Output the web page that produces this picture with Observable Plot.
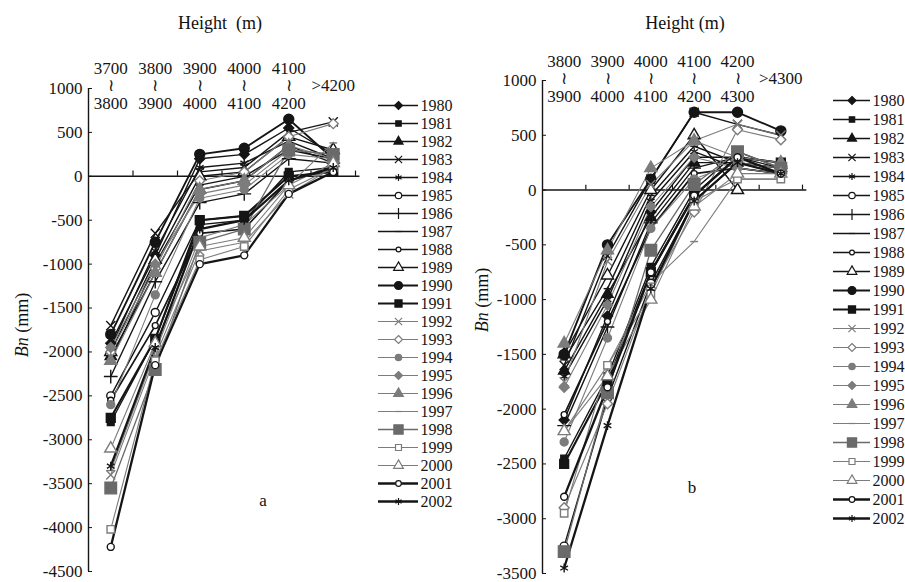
<!DOCTYPE html>
<html><head><meta charset="utf-8">
<script src="https://cdn.jsdelivr.net/npm/d3@7"></script>
<script src="https://cdn.jsdelivr.net/npm/@observablehq/plot@0.6"></script>
<style>
body{margin:0;background:#fff;}
#wrap{position:relative;width:905px;height:582px;overflow:hidden;font-family:"Liberation Serif","Times New Roman",Tinos,"DejaVu Serif",serif;color:#111;}
.abs{position:absolute;white-space:pre;line-height:1;}
.title{font-size:18px;transform:translate(-50%,-50%);}
.ylab{font-size:18px;transform:translate(-50%,-50%) rotate(-90deg);}
.plab{font-size:17px;transform:translate(-50%,-50%);}
</style></head><body><div id="wrap"></div>
<script>
// ---------- data ----------
const years = [1980,1981,1982,1983,1984,1985,1986,1987,1988,1989,1990,1991,1992,1993,1994,1995,1996,1997,1998,1999,2000,2001,2002];
const categoriesA = ["3700\n≀\n3800","3800\n≀\n3900","3900\n≀\n4000","4000\n≀\n4100","4100\n≀\n4200",">4200"];
const categoriesB = ["3800\n≀\n3900","3900\n≀\n4000","4000\n≀\n4100","4100\n≀\n4200","4200\n≀\n4300",">4300"];
const yTicksA = [1000,500,0,-500,-1000,-1500,-2000,-2500,-3000,-3500,-4000,-4500];
const yTicksB = [1000,500,0,-500,-1000,-1500,-2000,-2500,-3000,-3500];
// panel a: Bn (mm) per year, per elevation band
const bnA = [
  [-1900, -900,  200,  250,  550,  250], // 1980
  [-2800,-1850, -550, -500,   50,  100], // 1981
  [-2050,-1100, -150,  -50,  350,  150], // 1982
  [-1700, -650,   50,  100,  500,  620], // 1983
  [-1950, -850,  100,  150,  400,  200], // 1984
  [-2500,-1550, -500, -450,    0,   50], // 1985
  [-2280,-1200, -300, -200,  200,  150], // 1986
  [-2100,-1000, -100,    0,  300,  200], // 1987
  [-2550,-1700, -650, -600,  -50,  100], // 1988
  [-2000, -950,    0,   50,  450,  300], // 1989
  [-1800, -750,  250,  320,  650,  200], // 1990
  [-2750,-1850, -500, -450,    0,   50], // 1991
  [-3400,-2050, -850, -750, -200,  100], // 1992
  [-2000,-1050,  -50,   50,  450,  600], // 1993
  [-2600,-1350, -250, -150,  250,  200], // 1994
  [-1950,-1000, -200, -100,  300,  250], // 1995
  [-2100,-1100, -150,  -50,  350,  200], // 1996
  [-3350,-2000, -700, -550, -100,  380], // 1997
  [-3550,-2200, -750, -600,  300,  250], // 1998
  [-4020,-2100, -950, -800, -150,  100], // 1999
  [-3100,-1900, -800, -700, -100,  150], // 2000
  [-4220,-2150,-1000, -900, -200,   50], // 2001
  [-3300,-1950, -600, -500,  -50,  100]  // 2002
];
// panel b
const bnB = [
  [-2100,-1150, -200,  300,  300,  250], // 1980
  [-2450,-1700, -700,    0,  350,  200], // 1981
  [-1650, -950, -250,  250,  250,  200], // 1982
  [-1600, -600,  100,  710,  600,  500], // 1983
  [-1700,-1000, -100,  350,  200,  150], // 1984
  [-3250,-1900, -850, -100,  250,  150], // 1985
  [-2150,-1250, -300,  200,  300,  200], // 1986
  [-1550, -900,  -50,  400,  250,  200], // 1987
  [-2050,-1200, -350,  150,  200,  150], // 1988
  [-1500, -780,    0,  500,    0, null], // 1989
  [-1500, -500,  100,  710,  710,  540], // 1990
  [-2500,-1750, -750,  -50,  300,  250], // 1991
  [-1750, -650,   50,  450,  600,  500], // 1992
  [-2900,-1950, -900, -200,  550,  460], // 1993
  [-2300,-1350, -350,  100,  250,  200], // 1994
  [-1800,-1050, -150,  300,  200,  150], // 1995
  [-1400, -550,  200,  450,  300,  250], // 1996
  [-2200,-1600, -850, -470,  100,  100], // 1997
  [-3300,-1850, -550,   50,  350,  200], // 1998
  [-2950,-1600, -950, -100,  100,  100], // 1999
  [-2200,-1700,-1000, -150,  150,  150], // 2000
  [-2800,-1800, -750,  -50,  300,  150], // 2001
  [-3450,-2150, -900, -100,  250,  150]  // 2002
];

// ---------- styles ----------
const FONT = "'Liberation Serif','Times New Roman',Tinos,'DejaVu Serif',serif";
const K = "#151515", G = "#7c7c7c", W = "#ffffff";
const dash = {draw(ctx, size){ const r = Math.sqrt(size/Math.PI)*1.3; ctx.moveTo(-r,0); ctx.lineTo(r,0); }};
const styles = [
  {sym:"diamond2", fill:K, stroke:K, r:4.5, sw:1.4},   // 1980
  {sym:"square",   fill:K, stroke:K, r:3.8, sw:1.4},   // 1981
  {sym:"triangle", fill:K, stroke:K, r:4.2, sw:1.4},   // 1982
  {sym:"times",    fill:"none", stroke:K, r:4.2, sw:1.4}, // 1983
  {sym:"asterisk", fill:"none", stroke:K, r:4.2, sw:1.4}, // 1984
  {sym:"circle",   fill:W, stroke:K, r:4, sw:1.4},     // 1985
  {sym:"plus",     fill:"none", stroke:K, r:4.5, sw:1.4}, // 1986
  {sym:dash,       fill:"none", stroke:K, r:3, sw:1.4},   // 1987
  {sym:"circle",   fill:W, stroke:K, r:3, sw:1.7},     // 1988
  {sym:"triangle", fill:W, stroke:K, r:4.5, sw:1.4},   // 1989
  {sym:"circle",   fill:K, stroke:K, r:5, sw:1.9},     // 1990
  {sym:"square",   fill:K, stroke:K, r:5, sw:2.1},     // 1991
  {sym:"times",    fill:"none", stroke:G, r:4.2, sw:1.1}, // 1992
  {sym:"diamond2", fill:W, stroke:G, r:4.5, sw:1.1},     // 1993
  {sym:"circle",   fill:G, stroke:G, r:4, sw:1.1},       // 1994
  {sym:"diamond2", fill:G, stroke:G, r:4.5, sw:1.1},     // 1995
  {sym:"triangle", fill:G, stroke:G, r:4.5, sw:1.1},     // 1996
  {sym:dash,       fill:"none", stroke:G, r:3, sw:1.1},  // 1997
  {sym:"square",   fill:"#6a6a6a", stroke:"#6a6a6a", r:6.5, sw:1.3}, // 1998
  {sym:"square",   fill:W, stroke:G, r:4.2, sw:1.1},     // 1999
  {sym:"triangle", fill:W, stroke:G, r:4.5, sw:1.1},     // 2000
  {sym:"circle",   fill:W, stroke:K, r:3.5, sw:2.3},   // 2001
  {sym:"asterisk", fill:"none", stroke:K, r:4.2, sw:2.3} // 2002
];

const wrap = document.getElementById("wrap");
function place(el, left, top){ el.style.position="absolute"; el.style.left=left+"px"; el.style.top=top+"px"; wrap.appendChild(el); }
function label(html, cls, x, y){ const d=document.createElement("div"); d.className="abs "+cls; d.innerHTML=html; d.style.left=x+"px"; d.style.top=y+"px"; wrap.appendChild(d); }

function panel({cats, bn, yDomain, yTicks, width, ml, mr, mt, mb, dyLab, tickLen}){
  const rows = years.flatMap((yr,s)=>cats.map((c,i)=>({yr, s, i, v: bn[s][i]})));
  const marks = [
    Plot.ruleY([0], {x1:-0.5, x2:5.6, stroke:K, strokeWidth:1.4}),
    Plot.ruleX([-0.5], {y1:yDomain[0], y2:yDomain[1], stroke:K, strokeWidth:1.4}),
    Plot.ruleX(d3.range(0.5, 6, 1), {y1:0, y2:tickLen, stroke:K, strokeWidth:1.2}),
    Plot.axisY({ticks:yTicks, tickSize:-4, tickPadding:10, tickFormat:d=>String(d), fontSize:17, label:null, stroke:K, fill:K}),
    Plot.text(cats, {x:(d,i)=>i, text:d=>d, frameAnchor:"top", lineAnchor:"middle", dy:dyLab, fontSize:17, lineHeight:1.03, fill:K})
  ];
  styles.forEach((st,s)=>{
    marks.push(Plot.line(rows.filter(r=>r.s===s), {x:"i", y:"v", stroke:st.stroke, strokeWidth:st.sw}));
  });
  styles.forEach((st,s)=>{
    marks.push(Plot.dot(rows.filter(r=>r.s===s && r.v!=null), {x:"i", y:"v", symbol:st.sym, r:st.r, fill:st.fill, stroke:st.stroke, strokeWidth:1.4}));
  });
  return Plot.plot({
    width, height:582, marginLeft:ml, marginRight:mr, marginTop:mt, marginBottom:mb,
    x:{domain:[-0.5,5.5], axis:null},
    y:{domain:yDomain, axis:null},
    style:{fontFamily:FONT, color:K, background:"transparent", overflow:"visible"},
    marks
  });
}

function legend({width, x0, x1, y0, y1, fontSize}){
  const marks = [];
  styles.forEach((st,s)=>{
    const yr = years[s];
    marks.push(Plot.ruleY([yr], {x1:0, x2:1, stroke:st.stroke, strokeWidth:st.sw}));
    marks.push(Plot.dot([yr], {x:0.5, y:d=>d, symbol:st.sym, r:st.r*0.8, fill:st.fill, stroke:st.stroke, strokeWidth:1.2}));
    marks.push(Plot.text([yr], {x:1, y:d=>d, text:d=>String(d), textAnchor:"start", dx:2, fontSize, fill:K}));
  });
  return Plot.plot({
    width, height:582, margin:0,
    x:{domain:[0,1], range:[x0,x1], axis:null},
    y:{type:"point", domain:years, range:[y0,y1], axis:null},
    style:{fontFamily:FONT, color:K, background:"transparent", overflow:"visible"},
    marks
  });
}

// panel a
place(panel({cats:categoriesA, bn:bnA, yDomain:[-4500,1000], yTicks:yTicksA, width:370, ml:88, mr:15, mt:88, mb:11, dyLab:-3, tickLen:60}), 0, 0);
place(legend({width:95, x0:8, x1:48, y0:88, y1:517, fontSize:16}), 370, 0);
// panel b
place(panel({cats:categoriesB, bn:bnB, yDomain:[-3500,1000], yTicks:yTicksB, width:370, ml:92, mr:18, mt:80, mb:9, dyLab:-2, tickLen:45}), 450, 0);
place(legend({width:80, x0:8, x1:45, y0:80, y1:537, fontSize:16}), 825, 0);

label("Height  (m)", "title", 220, 23);
label("Height (m)", "title", 685, 23);
label("<i>Bn</i> (mm)", "ylab", 22, 325);
label("<i>Bn</i> (mm)", "ylab", 482, 300);
label("a", "plab", 263, 500);
label("b", "plab", 692, 487);
</script></body></html>
